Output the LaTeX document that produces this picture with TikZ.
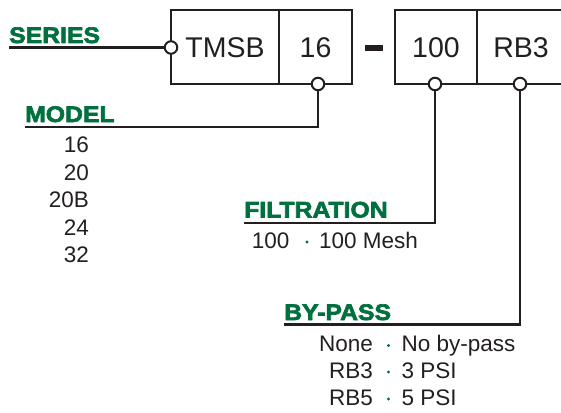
\documentclass[tikz,border=0pt]{standalone}
\usepackage{fontspec}
\setmainfont{Liberation Sans}
\newfontfamily\headfont[FakeBold=3,FakeStretch=1.1]{Liberation Sans Bold}
\definecolor{hgreen}{RGB}{0,112,62}
\definecolor{ink}{RGB}{35,31,32}
\tikzset{
  heading/.style={inner sep=0pt,anchor=base west,text=hgreen,font=\headfont\fontsize{22.5}{25}\selectfont},
  boxtext/.style={inner sep=0pt,anchor=base,text=ink,font=\fontsize{28.5}{32}\selectfont},
  val/.style={inner sep=0pt,text=ink,font=\fontsize{22.5}{25}\selectfont},
  port/.style={circle,draw=ink,fill=white,line width=2pt,minimum size=12.5pt,inner sep=0pt},
  leader/.style={draw=ink,line width=2.4pt},
  frame/.style={draw=ink,line width=2.6pt},
  sep/.style={circle,fill=hgreen,minimum size=3.2pt,inner sep=0pt}
}
\begin{document}
\begin{tikzpicture}[x=1pt,y=-1pt]
\useasboundingbox (0,0) rectangle (561,412);
% boxes
\draw[frame] (171,10) rectangle (352,84);
\draw[frame] (279,10) -- (279,84);
\draw[frame] (575,10) -- (395,10) -- (395,84) -- (575,84);
\draw[frame] (477,10) -- (477,84);
\fill[ink] (364.5,45) rectangle (383,50.5);
\node[boxtext] (tmsb) at (225,57) {TMSB};
\node[boxtext] (b16) at (315.5,57) {16};
\node[boxtext] (b100) at (436,57) {100};
\node[boxtext] (brb3) at (521,57) {RB3};
% headings
\node[heading] (series) at (9,43) {SERIES};
\node[heading] (model) at (25,122) {MODEL};
\node[heading] (filt) at (244,217.5) {FILTRATION};
\node[heading] (bypass) at (284,320) {BY-PASS};
% leader ends
\coordinate (s0) at (9,47.5);
\coordinate (m0) at (25,127);
\coordinate (f0) at (244,223);
\coordinate (p0) at (284,324.5);
% leaders
\node[port] (c1) at (171,47.5) {};
\node[port] (c2) at (318,84) {};
\node[port] (c3) at (435,84) {};
\node[port] (c4) at (520,84) {};
\draw[leader] (s0) -- (c1.west);
\draw[leader] (c2.south) |- (m0);
\draw[leader] (c3.south) |- (f0);
\draw[leader] (c4.south) |- (p0);
% model values
\node[val,anchor=base east] (m16) at (89,152.5) {16};
\node[val,anchor=base east] (m20) at (89,180) {20};
\node[val,anchor=base east] (m20b) at (89,207.5) {20B};
\node[val,anchor=base east] (m24) at (89,235) {24};
\node[val,anchor=base east] (m32) at (89,262.5) {32};
% filtration
\node[val,anchor=base east] (f100) at (289.5,248) {100};
\node[sep] (fd) at (307,242) {};
\node[val,anchor=base west] (fmesh) at (319,248) {100 Mesh};
% bypass
\node[val,anchor=base east] (pn) at (373,351.5) {None};
\node[sep] (pd1) at (388.5,345.5) {};
\node[val,anchor=base west] (pnt) at (401.5,351.5) {No by-pass};
\node[val,anchor=base east] (p3) at (373,378) {RB3};
\node[sep] (pd2) at (388.5,372) {};
\node[val,anchor=base west] (p3t) at (401.5,378) {3 PSI};
\node[val,anchor=base east] (p5) at (373,405) {RB5};
\node[sep] (pd3) at (388.5,399) {};
\node[val,anchor=base west] (p5t) at (401.5,405) {5 PSI};
\end{tikzpicture}
\end{document}
